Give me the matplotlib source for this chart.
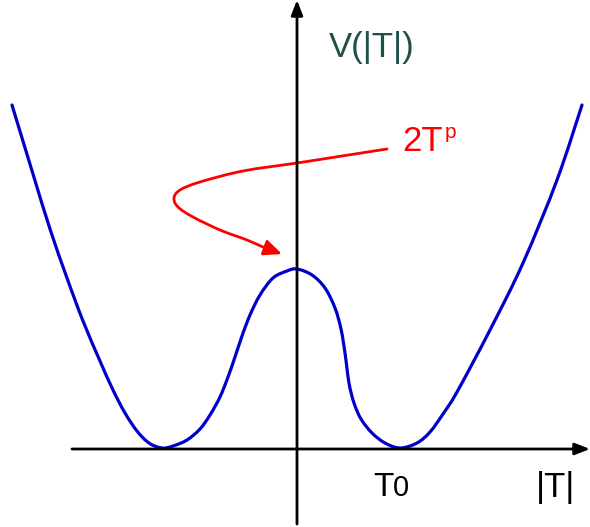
import matplotlib
matplotlib.use("Agg")
import matplotlib.pyplot as plt
from matplotlib.path import Path
from matplotlib.patches import PathPatch, FancyArrowPatch

plt.rcParams['font.family'] = ['Liberation Sans', 'DejaVu Sans']

# Potential curve V(|T|) (x: along |T|, y: V), origin at axes crossing
curve_x = [-285, -264, -247, -230, -214, -197, -184, -172, -160, -148, -135,
           -124, -110, -97, -87, -77, -69, -62, -55, -47, -37, -24, -10, 0,
           15, 28, 38, 44, 48, 52, 57, 64, 75, 88, 103,
           120, 133, 146, 160, 193, 226, 260, 285]
curve_y = [344, 275, 220, 171, 128, 88, 59, 36, 18, 6, 1,
           3, 9, 20, 34, 52, 72, 92, 113, 134, 154, 171, 178, 180,
           174, 161, 141, 120, 96, 66, 46, 30, 16, 6, 1,
           6, 17, 35, 57, 119, 186, 269, 344]

# Red annotation arrow path (label "2T^p" pointing at the central peak)
arrow_x = [90, 45, 0, -54, -97, -117, -123, -119, -104, -77, -50, -34, -15]
arrow_y = [300, 293, 286, 278, 267, 259, 251, 242, 232, 219, 209, 202, 195]


def smooth_path(xs, ys, tension=6.0):
    """Catmull-Rom style cubic Bezier path through the given points."""
    pts = list(zip(xs, ys))
    verts = [pts[0]]
    codes = [Path.MOVETO]
    n = len(pts)
    for i in range(n - 1):
        p0 = pts[i - 1] if i > 0 else pts[i]
        p1 = pts[i]
        p2 = pts[i + 1]
        p3 = pts[i + 2] if i + 2 < n else pts[i + 1]
        c1 = (p1[0] + (p2[0] - p0[0]) / tension, p1[1] + (p2[1] - p0[1]) / tension)
        c2 = (p2[0] - (p3[0] - p1[0]) / tension, p2[1] - (p3[1] - p1[1]) / tension)
        verts += [c1, c2, p2]
        codes += [Path.CURVE4] * 3
    return Path(verts, codes)


fig = plt.figure(figsize=(5.9, 5.27), dpi=100)
ax = fig.add_axes([0, 0, 1, 1])
ax.set_xlim(-297, 293)
ax.set_ylim(-78, 449)
ax.axis('off')

# Axes with arrows
ax.annotate('', xy=(293, 0), xytext=(-225, 0),
            arrowprops=dict(arrowstyle='-|>,head_length=0.9,head_width=0.35',
                            color='black', lw=2.0, shrinkA=0, shrinkB=0))
ax.annotate('', xy=(0, 449), xytext=(0, -75),
            arrowprops=dict(arrowstyle='-|>,head_length=0.9,head_width=0.35',
                            color='black', lw=2.0, shrinkA=0, shrinkB=0))

# Potential curve
ax.add_patch(PathPatch(smooth_path(curve_x, curve_y), facecolor='none',
                       edgecolor='#0000C8', lw=2.3, joinstyle='round', capstyle='round'))

# Red arrow
arrow = FancyArrowPatch(path=smooth_path(arrow_x, arrow_y),
                        arrowstyle='-|>,head_length=0.9,head_width=0.4',
                        mutation_scale=12, color='#FF0000', lw=2.0,
                        shrinkA=0, shrinkB=0)
ax.add_patch(arrow)

# Labels
ax.text(75, 401, 'V(|T|)', color='#214F4A', fontsize=25, ha='center', va='center')
ax.text(105, 298, '2T', color='#FF0000', fontsize=25, ha='left', va='baseline')
ax.text(148, 311, 'p', color='#FF0000', fontsize=15, ha='left', va='baseline')
ax.text(76, -47, 'T', color='black', fontsize=24, ha='left', va='baseline')
ax.text(96, -47, '0', color='black', fontsize=21, ha='left', va='baseline')
ax.text(259, -48, '|T|', color='black', fontsize=25, ha='center', va='baseline')

fig.savefig('out.png', dpi=100)
